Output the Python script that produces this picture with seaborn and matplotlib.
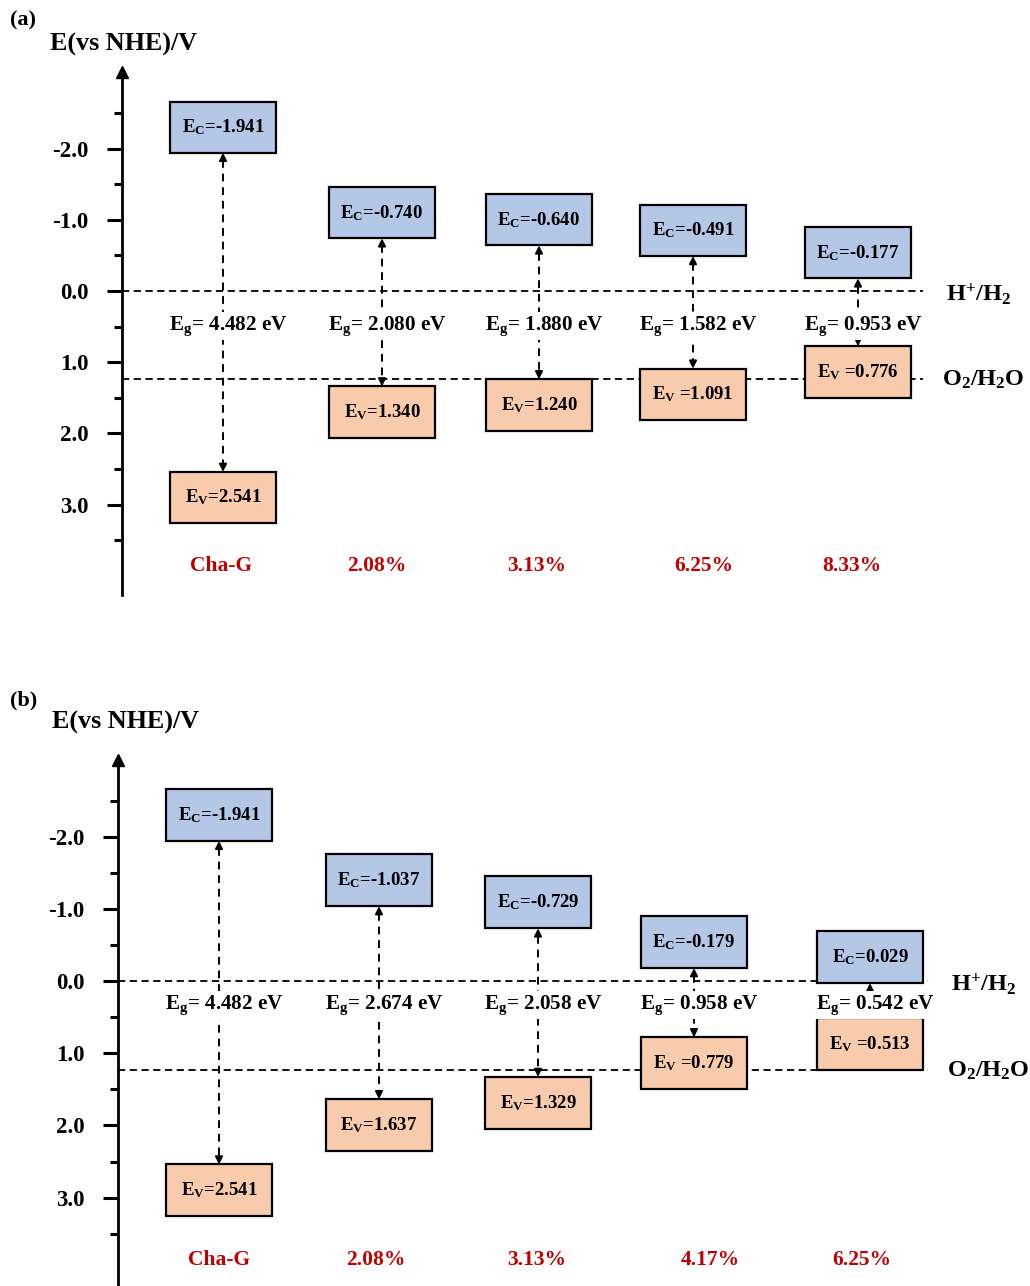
import matplotlib
matplotlib.use('Agg')
import matplotlib.pyplot as plt
from matplotlib.patches import Rectangle
import seaborn as sns

# ---------------- data ----------------
categories_a = ['Cha-G', '2.08%', '3.13%', '6.25%', '8.33%']
ec_a = [-1.941, -0.740, -0.640, -0.491, -0.177]
ev_a = [2.541, 1.340, 1.240, 1.091, 0.776]
eg_a = [4.482, 2.080, 1.880, 1.582, 0.953]
ev_gap_a = [False, False, False, True, True]

categories_b = ['Cha-G', '2.08%', '3.13%', '4.17%', '6.25%']
ec_b = [-1.941, -1.037, -0.729, -0.179, 0.029]
ev_b = [2.541, 1.637, 1.329, 0.779, 0.513]
eg_b = [4.482, 2.674, 2.058, 0.958, 0.542]
ev_gap_b = [False, False, False, True, True]

h2_level = 0.0
o2_level = 1.23
major_ticks = [-2.0, -1.0, 0.0, 1.0, 2.0, 3.0]
minor_ticks = [-2.5, -1.5, -0.5, 0.5, 1.5, 2.5, 3.5]

# ---------------- layout (pixel-based) ----------------
W, H = 1030, 1286
BLUE = '#B4C7E7'
ORANGE = '#F8CBAD'
RED = '#C00000'

sns.set_theme(style='white')
plt.rcParams['font.family'] = ['Liberation Serif', 'DejaVu Serif']
plt.rcParams['font.weight'] = 'bold'
plt.rcParams['text.color'] = 'black'
plt.rcParams['axes.labelcolor'] = 'black'
plt.rcParams['ytick.color'] = 'black'
plt.rcParams['xtick.color'] = 'black'
plt.rcParams['axes.edgecolor'] = 'black'
plt.rcParams['mathtext.fontset'] = 'custom'
plt.rcParams['mathtext.rm'] = 'Liberation Serif:bold'
plt.rcParams['mathtext.bf'] = 'Liberation Serif:bold'
plt.rcParams['mathtext.it'] = 'Liberation Serif:bold'

fig = plt.figure(figsize=(W / 100, H / 100), dpi=100)
fig.patch.set_facecolor('white')


def panel(ax_px, xlim, ylim, xpos, catx, cats, ec, ev, eg, gaps, eg_y,
          line_end, tag, tag_xy, title_xy):
    left, top, right, bottom = ax_px
    ax = fig.add_axes([left / W, 1 - bottom / H, (right - left) / W, (bottom - top) / H])
    ax.set_facecolor('none')
    ax.set_xlim(*xlim)
    ax.set_ylim(*ylim)
    sns.despine(ax=ax, top=True, right=True, bottom=True, left=False)
    ax.spines['left'].set_linewidth(2.0)
    ax.spines['left'].set_color('black')
    ax.set_xticks([])
    ax.set_yticks(major_ticks)
    ax.set_yticklabels([f'{t:.1f}' for t in major_ticks])
    ax.set_yticks(minor_ticks, minor=True)
    ax.tick_params(axis='y', which='major', length=11, width=2.2, direction='out',
                   labelsize=16.5, pad=13, left=True, colors='black')
    ax.tick_params(axis='y', which='minor', length=6, width=2.2, direction='out', left=True,
                   colors='black')
    for lab in ax.get_yticklabels():
        lab.set_fontweight('bold')
        lab.set_color('black')
    ax.grid(False)
    # axis arrow
    ax.plot([0], [1], marker='^', color='black', ms=8, transform=ax.transAxes,
            clip_on=False, zorder=6)

    # reference potential lines
    x0 = xlim[0]
    ax.plot([x0, line_end], [h2_level, h2_level], color='black', lw=1.3,
            ls=(0, (4, 2.5)), zorder=1, clip_on=False)
    ax.plot([x0, line_end], [o2_level, o2_level], color='black', lw=1.3,
            ls=(0, (4, 2.5)), zorder=1, clip_on=False)
    ax.text(line_end + 23, h2_level + 0.04, r'H$^{\mathbf{+}}$/H$_{\mathbf{2}}$', fontsize=17.5,
            fontweight='bold', ha='left', va='center', clip_on=False, color='black')
    ax.text(line_end + 19, o2_level + 0.02, r'O$_{\mathbf{2}}$/H$_{\mathbf{2}}$O', fontsize=17.5,
            fontweight='bold', ha='left', va='center', clip_on=False, color='black')

    bw = 106
    bh = 0.72
    for i in range(len(cats)):
        x = xpos[i]
        c, v, g = ec[i], ev[i], eg[i]
        ax.add_patch(Rectangle((x - bw / 2, c - bh), bw, bh, facecolor=BLUE,
                               edgecolor='black', lw=1.6, zorder=3))
        ax.add_patch(Rectangle((x - bw / 2, v), bw, bh, facecolor=ORANGE,
                               edgecolor='black', lw=1.6, zorder=3))
        ax.text(x, c - bh / 2, r'E$_{\mathbf{C}}$=' + f'{c:.3f}', fontsize=13.5,
                fontweight='bold', ha='center', va='center', zorder=4, color='black')
        sp = ' ' if gaps[i] else ''
        ax.text(x, v + bh / 2, r'E$_{\mathbf{V}}$' + sp + f'={v:.3f}', fontsize=13.5,
                fontweight='bold', ha='center', va='center', zorder=4, color='black')
        # dashed arrow
        ah = 0.1
        if v - c > 2 * ah:
            ax.plot([x, x], [c + ah, v - ah], color='black', lw=1.4,
                    ls=(0, (4, 3)), zorder=2)
        ax.annotate('', xy=(x, c), xytext=(x, c + ah),
                    arrowprops=dict(arrowstyle='-|>', color='black', lw=1.4,
                                    mutation_scale=11, shrinkA=0, shrinkB=0), zorder=2)
        ax.annotate('', xy=(x, v), xytext=(x, v - ah),
                    arrowprops=dict(arrowstyle='-|>', color='black', lw=1.4,
                                    mutation_scale=11, shrinkA=0, shrinkB=0), zorder=2)
        ax.text(x + 5, eg_y, r'E$_{\mathbf{g}}$= ' + f'{g:.3f} eV', fontsize=15.2,
                fontweight='bold', ha='center', va='center', zorder=5, color='black',
                bbox=dict(facecolor='white', edgecolor='none', pad=1.5))
        ax.text(catx[i], 3.86, cats[i], fontsize=15.5, fontweight='bold', color=RED,
                ha='center', va='center')

    fig.text(tag_xy[0] / W, 1 - tag_xy[1] / H, tag, fontsize=16, fontweight='bold',
             ha='left', va='center', color='black')
    fig.text(title_xy[0] / W, 1 - title_xy[1] / H, 'E(vs NHE)/V', fontsize=18.8,
             fontweight='bold', ha='left', va='center', color='black')
    return ax


panel((122, 72, 1030, 595), (122, 1030), (4.270, -3.076),
      [223, 382, 539, 693, 858], [221, 377, 537, 704, 852],
      categories_a, ec_a, ev_a, eg_a, ev_gap_a, 0.49, 923,
      '(a)', (10, 20), (50, 44))

panel((118, 760, 1030, 1286), (118, 1030), (4.224, -3.061),
      [219, 379, 538, 694, 870], [219, 376, 537, 710, 862],
      categories_b, ec_b, ev_b, eg_b, ev_gap_b, 0.33, 928,
      '(b)', (10, 700), (52, 722))

fig.savefig('out.png', dpi=100, facecolor='white')
